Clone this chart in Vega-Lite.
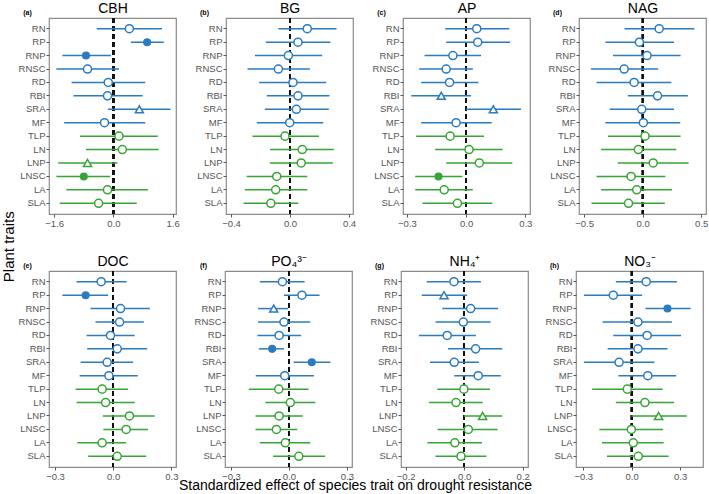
{
"$schema":"https://vega.github.io/schema/vega-lite/v6.json",
"padding":{"left":2,"top":0,"right":0,"bottom":0},
"title":{"text":"Plant traits","orient":"left","anchor":"middle","fontSize":15,"fontWeight":"normal","offset":0,"color":"#000"},
"datasets":{"d":[
{"p":"a","t":"RN","g":"root","e":0.43,"lo":-0.45,"hi":1.31,"s":"circle","f":0},
{"p":"a","t":"RP","g":"root","e":0.91,"lo":0.47,"hi":1.36,"s":"circle","f":1},
{"p":"a","t":"RNP","g":"root","e":-0.74,"lo":-1.38,"hi":-0.07,"s":"circle","f":1},
{"p":"a","t":"RNSC","g":"root","e":-0.70,"lo":-1.54,"hi":0.15,"s":"circle","f":0},
{"p":"a","t":"RD","g":"root","e":-0.14,"lo":-1.13,"hi":0.86,"s":"circle","f":0},
{"p":"a","t":"RBI","g":"root","e":-0.16,"lo":-1.08,"hi":0.79,"s":"circle","f":0},
{"p":"a","t":"SRA","g":"root","e":0.70,"lo":-0.15,"hi":1.54,"s":"triangle","f":0},
{"p":"a","t":"MF","g":"root","e":-0.24,"lo":-1.33,"hi":0.86,"s":"circle","f":0},
{"p":"a","t":"TLP","g":"leaf","e":0.15,"lo":-0.90,"hi":1.20,"s":"circle","f":0},
{"p":"a","t":"LN","g":"leaf","e":0.24,"lo":-0.74,"hi":1.22,"s":"circle","f":0},
{"p":"a","t":"LNP","g":"leaf","e":-0.70,"lo":-1.49,"hi":0.11,"s":"triangle","f":0},
{"p":"a","t":"LNSC","g":"leaf","e":-0.80,"lo":-1.54,"hi":-0.09,"s":"circle","f":1},
{"p":"a","t":"LA","g":"leaf","e":-0.16,"lo":-1.27,"hi":0.93,"s":"circle","f":0},
{"p":"a","t":"SLA","g":"leaf","e":-0.40,"lo":-1.45,"hi":0.63,"s":"circle","f":0},
{"p":"b","t":"RN","g":"root","e":0.117,"lo":-0.079,"hi":0.315,"s":"circle","f":0},
{"p":"b","t":"RP","g":"root","e":0.054,"lo":-0.164,"hi":0.274,"s":"circle","f":0},
{"p":"b","t":"RNP","g":"root","e":-0.011,"lo":-0.238,"hi":0.218,"s":"circle","f":0},
{"p":"b","t":"RNSC","g":"root","e":-0.079,"lo":-0.288,"hi":0.135,"s":"circle","f":0},
{"p":"b","t":"RD","g":"root","e":0.02,"lo":-0.209,"hi":0.245,"s":"circle","f":0},
{"p":"b","t":"RBI","g":"root","e":0.054,"lo":-0.157,"hi":0.267,"s":"circle","f":0},
{"p":"b","t":"SRA","g":"root","e":0.043,"lo":-0.171,"hi":0.263,"s":"circle","f":0},
{"p":"b","t":"MF","g":"root","e":-0.002,"lo":-0.225,"hi":0.225,"s":"circle","f":0},
{"p":"b","t":"TLP","g":"leaf","e":-0.034,"lo":-0.254,"hi":0.196,"s":"circle","f":0},
{"p":"b","t":"LN","g":"leaf","e":0.083,"lo":-0.135,"hi":0.297,"s":"circle","f":0},
{"p":"b","t":"LNP","g":"leaf","e":0.076,"lo":-0.137,"hi":0.29,"s":"circle","f":0},
{"p":"b","t":"LNSC","g":"leaf","e":-0.09,"lo":-0.294,"hi":0.117,"s":"circle","f":0},
{"p":"b","t":"LA","g":"leaf","e":-0.097,"lo":-0.306,"hi":0.117,"s":"circle","f":0},
{"p":"b","t":"SLA","g":"leaf","e":-0.13,"lo":-0.315,"hi":0.056,"s":"circle","f":0},
{"p":"c","t":"RN","g":"root","e":0.054,"lo":-0.106,"hi":0.219,"s":"circle","f":0},
{"p":"c","t":"RP","g":"root","e":0.059,"lo":-0.101,"hi":0.223,"s":"circle","f":0},
{"p":"c","t":"RNP","g":"root","e":-0.067,"lo":-0.211,"hi":0.076,"s":"circle","f":0},
{"p":"c","t":"RNSC","g":"root","e":-0.101,"lo":-0.238,"hi":0.034,"s":"circle","f":0},
{"p":"c","t":"RD","g":"root","e":-0.084,"lo":-0.228,"hi":0.062,"s":"circle","f":0},
{"p":"c","t":"RBI","g":"root","e":-0.126,"lo":-0.278,"hi":0.025,"s":"triangle","f":0},
{"p":"c","t":"SRA","g":"root","e":0.138,"lo":0.0,"hi":0.278,"s":"triangle","f":0},
{"p":"c","t":"MF","g":"root","e":-0.051,"lo":-0.228,"hi":0.13,"s":"circle","f":0},
{"p":"c","t":"TLP","g":"leaf","e":-0.081,"lo":-0.253,"hi":0.091,"s":"circle","f":0},
{"p":"c","t":"LN","g":"leaf","e":0.015,"lo":-0.157,"hi":0.185,"s":"circle","f":0},
{"p":"c","t":"LNP","g":"leaf","e":0.067,"lo":-0.101,"hi":0.234,"s":"circle","f":0},
{"p":"c","t":"LNSC","g":"leaf","e":-0.14,"lo":-0.258,"hi":-0.019,"s":"circle","f":1},
{"p":"c","t":"LA","g":"leaf","e":-0.111,"lo":-0.258,"hi":0.034,"s":"circle","f":0},
{"p":"c","t":"SLA","g":"leaf","e":-0.044,"lo":-0.221,"hi":0.133,"s":"circle","f":0},
{"p":"d","t":"RN","g":"root","e":0.141,"lo":-0.155,"hi":0.442,"s":"circle","f":0},
{"p":"d","t":"RP","g":"root","e":-0.028,"lo":-0.318,"hi":0.268,"s":"circle","f":0},
{"p":"d","t":"RNP","g":"root","e":0.037,"lo":-0.254,"hi":0.324,"s":"circle","f":0},
{"p":"d","t":"RNSC","g":"root","e":-0.158,"lo":-0.442,"hi":0.132,"s":"circle","f":0},
{"p":"d","t":"RD","g":"root","e":-0.073,"lo":-0.394,"hi":0.245,"s":"circle","f":0},
{"p":"d","t":"RBI","g":"root","e":0.127,"lo":-0.127,"hi":0.386,"s":"circle","f":0},
{"p":"d","t":"SRA","g":"root","e":-0.008,"lo":-0.282,"hi":0.268,"s":"circle","f":0},
{"p":"d","t":"MF","g":"root","e":0.006,"lo":-0.318,"hi":0.321,"s":"circle","f":0},
{"p":"d","t":"TLP","g":"leaf","e":0.02,"lo":-0.296,"hi":0.324,"s":"circle","f":0},
{"p":"d","t":"LN","g":"leaf","e":-0.037,"lo":-0.355,"hi":0.287,"s":"circle","f":0},
{"p":"d","t":"LNP","g":"leaf","e":0.09,"lo":-0.214,"hi":0.392,"s":"circle","f":0},
{"p":"d","t":"LNSC","g":"leaf","e":-0.099,"lo":-0.394,"hi":0.194,"s":"circle","f":0},
{"p":"d","t":"LA","g":"leaf","e":-0.051,"lo":-0.355,"hi":0.251,"s":"circle","f":0},
{"p":"d","t":"SLA","g":"leaf","e":-0.121,"lo":-0.437,"hi":0.189,"s":"circle","f":0},
{"p":"e","t":"RN","g":"root","e":-0.062,"lo":-0.189,"hi":0.069,"s":"circle","f":0},
{"p":"e","t":"RP","g":"root","e":-0.142,"lo":-0.262,"hi":-0.026,"s":"circle","f":1},
{"p":"e","t":"RNP","g":"root","e":0.038,"lo":-0.117,"hi":0.189,"s":"circle","f":0},
{"p":"e","t":"RNSC","g":"root","e":0.033,"lo":-0.091,"hi":0.158,"s":"circle","f":0},
{"p":"e","t":"RD","g":"root","e":-0.014,"lo":-0.137,"hi":0.111,"s":"circle","f":0},
{"p":"e","t":"RBI","g":"root","e":0.021,"lo":-0.134,"hi":0.175,"s":"circle","f":0},
{"p":"e","t":"SRA","g":"root","e":-0.031,"lo":-0.168,"hi":0.103,"s":"circle","f":0},
{"p":"e","t":"MF","g":"root","e":-0.022,"lo":-0.173,"hi":0.127,"s":"circle","f":0},
{"p":"e","t":"TLP","g":"leaf","e":-0.057,"lo":-0.194,"hi":0.077,"s":"circle","f":0},
{"p":"e","t":"LN","g":"leaf","e":-0.039,"lo":-0.189,"hi":0.111,"s":"circle","f":0},
{"p":"e","t":"LNP","g":"leaf","e":0.084,"lo":-0.053,"hi":0.214,"s":"circle","f":0},
{"p":"e","t":"LNSC","g":"leaf","e":0.067,"lo":-0.051,"hi":0.18,"s":"circle","f":0},
{"p":"e","t":"LA","g":"leaf","e":-0.057,"lo":-0.185,"hi":0.067,"s":"circle","f":0},
{"p":"e","t":"SLA","g":"leaf","e":0.021,"lo":-0.129,"hi":0.17,"s":"circle","f":0},
{"p":"f","t":"RN","g":"root","e":-0.034,"lo":-0.151,"hi":0.081,"s":"circle","f":0},
{"p":"f","t":"RP","g":"root","e":0.067,"lo":-0.026,"hi":0.158,"s":"circle","f":0},
{"p":"f","t":"RNP","g":"root","e":-0.079,"lo":-0.16,"hi":-0.005,"s":"triangle","f":0},
{"p":"f","t":"RNSC","g":"root","e":-0.026,"lo":-0.16,"hi":0.11,"s":"circle","f":0},
{"p":"f","t":"RD","g":"root","e":-0.051,"lo":-0.163,"hi":0.063,"s":"circle","f":0},
{"p":"f","t":"RBI","g":"root","e":-0.087,"lo":-0.156,"hi":-0.026,"s":"circle","f":1},
{"p":"f","t":"SRA","g":"root","e":0.118,"lo":0.024,"hi":0.214,"s":"circle","f":1},
{"p":"f","t":"MF","g":"root","e":-0.022,"lo":-0.172,"hi":0.129,"s":"circle","f":0},
{"p":"f","t":"TLP","g":"leaf","e":-0.053,"lo":-0.208,"hi":0.101,"s":"circle","f":0},
{"p":"f","t":"LN","g":"leaf","e":0.007,"lo":-0.122,"hi":0.136,"s":"circle","f":0},
{"p":"f","t":"LNP","g":"leaf","e":-0.051,"lo":-0.173,"hi":0.072,"s":"circle","f":0},
{"p":"f","t":"LNSC","g":"leaf","e":-0.065,"lo":-0.173,"hi":0.043,"s":"circle","f":0},
{"p":"f","t":"LA","g":"leaf","e":-0.019,"lo":-0.151,"hi":0.11,"s":"circle","f":0},
{"p":"f","t":"SLA","g":"leaf","e":0.051,"lo":-0.082,"hi":0.187,"s":"circle","f":0},
{"p":"g","t":"RN","g":"root","e":-0.035,"lo":-0.128,"hi":0.057,"s":"circle","f":0},
{"p":"g","t":"RP","g":"root","e":-0.069,"lo":-0.145,"hi":0.01,"s":"triangle","f":0},
{"p":"g","t":"RNP","g":"root","e":0.022,"lo":-0.075,"hi":0.116,"s":"circle","f":0},
{"p":"g","t":"RNSC","g":"root","e":-0.003,"lo":-0.098,"hi":0.09,"s":"circle","f":0},
{"p":"g","t":"RD","g":"root","e":-0.058,"lo":-0.155,"hi":0.04,"s":"circle","f":0},
{"p":"g","t":"RBI","g":"root","e":0.039,"lo":-0.055,"hi":0.13,"s":"circle","f":0},
{"p":"g","t":"SRA","g":"root","e":-0.034,"lo":-0.117,"hi":0.05,"s":"circle","f":0},
{"p":"g","t":"MF","g":"root","e":0.048,"lo":-0.034,"hi":0.125,"s":"circle","f":0},
{"p":"g","t":"TLP","g":"leaf","e":-0.001,"lo":-0.092,"hi":0.088,"s":"circle","f":0},
{"p":"g","t":"LN","g":"leaf","e":-0.028,"lo":-0.12,"hi":0.063,"s":"circle","f":0},
{"p":"g","t":"LNP","g":"leaf","e":0.063,"lo":-0.001,"hi":0.13,"s":"triangle","f":0},
{"p":"g","t":"LNSC","g":"leaf","e":0.014,"lo":-0.091,"hi":0.114,"s":"circle","f":0},
{"p":"g","t":"LA","g":"leaf","e":-0.032,"lo":-0.126,"hi":0.061,"s":"circle","f":0},
{"p":"g","t":"SLA","g":"leaf","e":-0.011,"lo":-0.098,"hi":0.076,"s":"circle","f":0},
{"p":"h","t":"RN","g":"root","e":0.09,"lo":-0.098,"hi":0.28,"s":"circle","f":0},
{"p":"h","t":"RP","g":"root","e":-0.114,"lo":-0.296,"hi":0.065,"s":"circle","f":0},
{"p":"h","t":"RNP","g":"root","e":0.222,"lo":0.086,"hi":0.365,"s":"circle","f":1},
{"p":"h","t":"RNSC","g":"root","e":0.039,"lo":-0.18,"hi":0.249,"s":"circle","f":0},
{"p":"h","t":"RD","g":"root","e":0.096,"lo":-0.114,"hi":0.306,"s":"circle","f":0},
{"p":"h","t":"RBI","g":"root","e":0.039,"lo":-0.149,"hi":0.222,"s":"circle","f":0},
{"p":"h","t":"SRA","g":"root","e":-0.078,"lo":-0.296,"hi":0.141,"s":"circle","f":0},
{"p":"h","t":"MF","g":"root","e":0.1,"lo":-0.082,"hi":0.276,"s":"circle","f":0},
{"p":"h","t":"TLP","g":"leaf","e":-0.027,"lo":-0.245,"hi":0.192,"s":"circle","f":0},
{"p":"h","t":"LN","g":"leaf","e":0.082,"lo":-0.098,"hi":0.263,"s":"circle","f":0},
{"p":"h","t":"LNP","g":"leaf","e":0.167,"lo":-0.002,"hi":0.341,"s":"triangle","f":0},
{"p":"h","t":"LNSC","g":"leaf","e":-0.002,"lo":-0.2,"hi":0.194,"s":"circle","f":0},
{"p":"h","t":"LA","g":"leaf","e":0.01,"lo":-0.184,"hi":0.198,"s":"circle","f":0},
{"p":"h","t":"SLA","g":"leaf","e":0.041,"lo":-0.153,"hi":0.229,"s":"circle","f":0}
]},
"data":{"name":"d"},
"spacing":24,
"vconcat":[
{"spacing":14,"hconcat":[
{"width":127,"height":196,"transform":[{"filter":"datum.p==='a'"}],"resolve":{"axis":{"x":"independent"}},
"layer":[
{"mark":{"type":"rule","strokeDash":[5,3],"strokeWidth":1.5,"color":"#111"},"encoding":{"x":{"datum":0,"type":"quantitative","scale":{"domain":[-1.74,1.69],"nice":false,"zero":false},"axis":{"orient":"top","title":"CBH"}}}},
{"mark":{"type":"rule","strokeWidth":1.5},"encoding":{"y":{"field":"t","type":"nominal","sort":["RN","RP","RNP","RNSC","RD","RBI","SRA","MF","TLP","LN","LNP","LNSC","LA","SLA"],"scale":{"padding":0.6},"axis":{"title":"(a)"}},"x":{"field":"lo","type":"quantitative","axis":{"values":[-1.6,0,1.6],"format":".1f","title":null}},"x2":{"field":"hi"},"color":{"field":"g","type":"nominal","scale":{"domain":["root","leaf"],"range":["#2A7BBF","#36A535"]},"legend":null}}},
{"transform":[{"filter":"datum.f==0"}],"mark":{"type":"point","filled":false,"fill":"white","size":65,"strokeWidth":1.5,"opacity":1},"encoding":{"y":{"field":"t","type":"nominal","sort":["RN","RP","RNP","RNSC","RD","RBI","SRA","MF","TLP","LN","LNP","LNSC","LA","SLA"]},"x":{"field":"e","type":"quantitative","axis":null},"color":{"field":"g","type":"nominal","legend":null},"shape":{"field":"s","type":"nominal","scale":{"domain":["circle","triangle"],"range":["circle","triangle-up"]},"legend":null}}},
{"transform":[{"filter":"datum.f==1"}],"mark":{"type":"point","filled":true,"size":65,"opacity":1},"encoding":{"y":{"field":"t","type":"nominal","sort":["RN","RP","RNP","RNSC","RD","RBI","SRA","MF","TLP","LN","LNP","LNSC","LA","SLA"]},"x":{"field":"e","type":"quantitative","axis":null},"color":{"field":"g","type":"nominal","legend":null},"shape":{"field":"s","type":"nominal","legend":null}}}
]},
{"width":127,"height":196,"transform":[{"filter":"datum.p==='b'"}],"resolve":{"axis":{"x":"independent"}},
"layer":[
{"mark":{"type":"rule","strokeDash":[5,3],"strokeWidth":1.5,"color":"#111"},"encoding":{"x":{"datum":0,"type":"quantitative","scale":{"domain":[-0.434,0.427],"nice":false,"zero":false},"axis":{"orient":"top","title":"BG"}}}},
{"mark":{"type":"rule","strokeWidth":1.5},"encoding":{"y":{"field":"t","type":"nominal","sort":["RN","RP","RNP","RNSC","RD","RBI","SRA","MF","TLP","LN","LNP","LNSC","LA","SLA"],"scale":{"padding":0.6},"axis":{"title":"(b)"}},"x":{"field":"lo","type":"quantitative","axis":{"values":[-0.4,0,0.4],"format":".1f","title":null}},"x2":{"field":"hi"},"color":{"field":"g","type":"nominal","scale":{"domain":["root","leaf"],"range":["#2A7BBF","#36A535"]},"legend":null}}},
{"transform":[{"filter":"datum.f==0"}],"mark":{"type":"point","filled":false,"fill":"white","size":65,"strokeWidth":1.5,"opacity":1},"encoding":{"y":{"field":"t","type":"nominal","sort":["RN","RP","RNP","RNSC","RD","RBI","SRA","MF","TLP","LN","LNP","LNSC","LA","SLA"]},"x":{"field":"e","type":"quantitative","axis":null},"color":{"field":"g","type":"nominal","legend":null},"shape":{"field":"s","type":"nominal","scale":{"domain":["circle","triangle"],"range":["circle","triangle-up"]},"legend":null}}},
{"transform":[{"filter":"datum.f==1"}],"mark":{"type":"point","filled":true,"size":65,"opacity":1},"encoding":{"y":{"field":"t","type":"nominal","sort":["RN","RP","RNP","RNSC","RD","RBI","SRA","MF","TLP","LN","LNP","LNSC","LA","SLA"]},"x":{"field":"e","type":"quantitative","axis":null},"color":{"field":"g","type":"nominal","legend":null},"shape":{"field":"s","type":"nominal","legend":null}}}
]},
{"width":127,"height":196,"transform":[{"filter":"datum.p==='c'"}],"resolve":{"axis":{"x":"independent"}},
"layer":[
{"mark":{"type":"rule","strokeDash":[5,3],"strokeWidth":1.5,"color":"#111"},"encoding":{"x":{"datum":0,"type":"quantitative","scale":{"domain":[-0.32,0.324],"nice":false,"zero":false},"axis":{"orient":"top","title":"AP"}}}},
{"mark":{"type":"rule","strokeWidth":1.5},"encoding":{"y":{"field":"t","type":"nominal","sort":["RN","RP","RNP","RNSC","RD","RBI","SRA","MF","TLP","LN","LNP","LNSC","LA","SLA"],"scale":{"padding":0.6},"axis":{"title":"(c)"}},"x":{"field":"lo","type":"quantitative","axis":{"values":[-0.3,0,0.3],"format":".1f","title":null}},"x2":{"field":"hi"},"color":{"field":"g","type":"nominal","scale":{"domain":["root","leaf"],"range":["#2A7BBF","#36A535"]},"legend":null}}},
{"transform":[{"filter":"datum.f==0"}],"mark":{"type":"point","filled":false,"fill":"white","size":65,"strokeWidth":1.5,"opacity":1},"encoding":{"y":{"field":"t","type":"nominal","sort":["RN","RP","RNP","RNSC","RD","RBI","SRA","MF","TLP","LN","LNP","LNSC","LA","SLA"]},"x":{"field":"e","type":"quantitative","axis":null},"color":{"field":"g","type":"nominal","legend":null},"shape":{"field":"s","type":"nominal","scale":{"domain":["circle","triangle"],"range":["circle","triangle-up"]},"legend":null}}},
{"transform":[{"filter":"datum.f==1"}],"mark":{"type":"point","filled":true,"size":65,"opacity":1},"encoding":{"y":{"field":"t","type":"nominal","sort":["RN","RP","RNP","RNSC","RD","RBI","SRA","MF","TLP","LN","LNP","LNSC","LA","SLA"]},"x":{"field":"e","type":"quantitative","axis":null},"color":{"field":"g","type":"nominal","legend":null},"shape":{"field":"s","type":"nominal","legend":null}}}
]},
{"width":127,"height":196,"transform":[{"filter":"datum.p==='d'"}],"resolve":{"axis":{"x":"independent"}},
"layer":[
{"mark":{"type":"rule","strokeDash":[5,3],"strokeWidth":1.5,"color":"#111"},"encoding":{"x":{"datum":0,"type":"quantitative","scale":{"domain":[-0.544,0.541],"nice":false,"zero":false},"axis":{"orient":"top","title":"NAG"}}}},
{"mark":{"type":"rule","strokeWidth":1.5},"encoding":{"y":{"field":"t","type":"nominal","sort":["RN","RP","RNP","RNSC","RD","RBI","SRA","MF","TLP","LN","LNP","LNSC","LA","SLA"],"scale":{"padding":0.6},"axis":{"title":"(d)"}},"x":{"field":"lo","type":"quantitative","axis":{"values":[-0.5,0,0.5],"format":".1f","title":null}},"x2":{"field":"hi"},"color":{"field":"g","type":"nominal","scale":{"domain":["root","leaf"],"range":["#2A7BBF","#36A535"]},"legend":null}}},
{"transform":[{"filter":"datum.f==0"}],"mark":{"type":"point","filled":false,"fill":"white","size":65,"strokeWidth":1.5,"opacity":1},"encoding":{"y":{"field":"t","type":"nominal","sort":["RN","RP","RNP","RNSC","RD","RBI","SRA","MF","TLP","LN","LNP","LNSC","LA","SLA"]},"x":{"field":"e","type":"quantitative","axis":null},"color":{"field":"g","type":"nominal","legend":null},"shape":{"field":"s","type":"nominal","scale":{"domain":["circle","triangle"],"range":["circle","triangle-up"]},"legend":null}}},
{"transform":[{"filter":"datum.f==1"}],"mark":{"type":"point","filled":true,"size":65,"opacity":1},"encoding":{"y":{"field":"t","type":"nominal","sort":["RN","RP","RNP","RNSC","RD","RBI","SRA","MF","TLP","LN","LNP","LNSC","LA","SLA"]},"x":{"field":"e","type":"quantitative","axis":null},"color":{"field":"g","type":"nominal","legend":null},"shape":{"field":"s","type":"nominal","legend":null}}}
]}
]},
{"spacing":14,"title":{"text":"Standardized effect of species trait on drought resistance","orient":"bottom","anchor":"middle","fontSize":14,"fontWeight":"normal","offset":-2,"dx":-5,"color":"#000"},"hconcat":[
{"width":127,"height":196,"transform":[{"filter":"datum.p==='e'"}],"resolve":{"axis":{"x":"independent"}},
"layer":[
{"mark":{"type":"rule","strokeDash":[5,3],"strokeWidth":1.5,"color":"#111"},"encoding":{"x":{"datum":0,"type":"quantitative","scale":{"domain":[-0.331,0.324],"nice":false,"zero":false},"axis":{"orient":"top","title":"DOC"}}}},
{"mark":{"type":"rule","strokeWidth":1.5},"encoding":{"y":{"field":"t","type":"nominal","sort":["RN","RP","RNP","RNSC","RD","RBI","SRA","MF","TLP","LN","LNP","LNSC","LA","SLA"],"scale":{"padding":0.6},"axis":{"title":"(e)"}},"x":{"field":"lo","type":"quantitative","axis":{"values":[-0.3,0,0.3],"format":".1f","title":null}},"x2":{"field":"hi"},"color":{"field":"g","type":"nominal","scale":{"domain":["root","leaf"],"range":["#2A7BBF","#36A535"]},"legend":null}}},
{"transform":[{"filter":"datum.f==0"}],"mark":{"type":"point","filled":false,"fill":"white","size":65,"strokeWidth":1.5,"opacity":1},"encoding":{"y":{"field":"t","type":"nominal","sort":["RN","RP","RNP","RNSC","RD","RBI","SRA","MF","TLP","LN","LNP","LNSC","LA","SLA"]},"x":{"field":"e","type":"quantitative","axis":null},"color":{"field":"g","type":"nominal","legend":null},"shape":{"field":"s","type":"nominal","scale":{"domain":["circle","triangle"],"range":["circle","triangle-up"]},"legend":null}}},
{"transform":[{"filter":"datum.f==1"}],"mark":{"type":"point","filled":true,"size":65,"opacity":1},"encoding":{"y":{"field":"t","type":"nominal","sort":["RN","RP","RNP","RNSC","RD","RBI","SRA","MF","TLP","LN","LNP","LNSC","LA","SLA"]},"x":{"field":"e","type":"quantitative","axis":null},"color":{"field":"g","type":"nominal","legend":null},"shape":{"field":"s","type":"nominal","legend":null}}}
]},
{"width":127,"height":196,"transform":[{"filter":"datum.p==='f'"}],"resolve":{"axis":{"x":"independent"}},
"layer":[
{"mark":{"type":"rule","strokeDash":[5,3],"strokeWidth":1.5,"color":"#111"},"encoding":{"x":{"datum":0,"type":"quantitative","scale":{"domain":[-0.331,0.326],"nice":false,"zero":false},"axis":{"orient":"top","title":"PO₄³⁻"}}}},
{"mark":{"type":"rule","strokeWidth":1.5},"encoding":{"y":{"field":"t","type":"nominal","sort":["RN","RP","RNP","RNSC","RD","RBI","SRA","MF","TLP","LN","LNP","LNSC","LA","SLA"],"scale":{"padding":0.6},"axis":{"title":"(f)"}},"x":{"field":"lo","type":"quantitative","axis":{"values":[-0.3,0,0.3],"format":".1f","title":null}},"x2":{"field":"hi"},"color":{"field":"g","type":"nominal","scale":{"domain":["root","leaf"],"range":["#2A7BBF","#36A535"]},"legend":null}}},
{"transform":[{"filter":"datum.f==0"}],"mark":{"type":"point","filled":false,"fill":"white","size":65,"strokeWidth":1.5,"opacity":1},"encoding":{"y":{"field":"t","type":"nominal","sort":["RN","RP","RNP","RNSC","RD","RBI","SRA","MF","TLP","LN","LNP","LNSC","LA","SLA"]},"x":{"field":"e","type":"quantitative","axis":null},"color":{"field":"g","type":"nominal","legend":null},"shape":{"field":"s","type":"nominal","scale":{"domain":["circle","triangle"],"range":["circle","triangle-up"]},"legend":null}}},
{"transform":[{"filter":"datum.f==1"}],"mark":{"type":"point","filled":true,"size":65,"opacity":1},"encoding":{"y":{"field":"t","type":"nominal","sort":["RN","RP","RNP","RNSC","RD","RBI","SRA","MF","TLP","LN","LNP","LNSC","LA","SLA"]},"x":{"field":"e","type":"quantitative","axis":null},"color":{"field":"g","type":"nominal","legend":null},"shape":{"field":"s","type":"nominal","legend":null}}}
]},
{"width":127,"height":196,"transform":[{"filter":"datum.p==='g'"}],"resolve":{"axis":{"x":"independent"}},
"layer":[
{"mark":{"type":"rule","strokeDash":[5,3],"strokeWidth":1.5,"color":"#111"},"encoding":{"x":{"datum":0,"type":"quantitative","scale":{"domain":[-0.216,0.218],"nice":false,"zero":false},"axis":{"orient":"top","title":"NH₄⁺"}}}},
{"mark":{"type":"rule","strokeWidth":1.5},"encoding":{"y":{"field":"t","type":"nominal","sort":["RN","RP","RNP","RNSC","RD","RBI","SRA","MF","TLP","LN","LNP","LNSC","LA","SLA"],"scale":{"padding":0.6},"axis":{"title":"(g)"}},"x":{"field":"lo","type":"quantitative","axis":{"values":[-0.2,0,0.2],"format":".1f","title":null}},"x2":{"field":"hi"},"color":{"field":"g","type":"nominal","scale":{"domain":["root","leaf"],"range":["#2A7BBF","#36A535"]},"legend":null}}},
{"transform":[{"filter":"datum.f==0"}],"mark":{"type":"point","filled":false,"fill":"white","size":65,"strokeWidth":1.5,"opacity":1},"encoding":{"y":{"field":"t","type":"nominal","sort":["RN","RP","RNP","RNSC","RD","RBI","SRA","MF","TLP","LN","LNP","LNSC","LA","SLA"]},"x":{"field":"e","type":"quantitative","axis":null},"color":{"field":"g","type":"nominal","legend":null},"shape":{"field":"s","type":"nominal","scale":{"domain":["circle","triangle"],"range":["circle","triangle-up"]},"legend":null}}},
{"transform":[{"filter":"datum.f==1"}],"mark":{"type":"point","filled":true,"size":65,"opacity":1},"encoding":{"y":{"field":"t","type":"nominal","sort":["RN","RP","RNP","RNSC","RD","RBI","SRA","MF","TLP","LN","LNP","LNSC","LA","SLA"]},"x":{"field":"e","type":"quantitative","axis":null},"color":{"field":"g","type":"nominal","legend":null},"shape":{"field":"s","type":"nominal","legend":null}}}
]},
{"width":127,"height":196,"transform":[{"filter":"datum.p==='h'"}],"resolve":{"axis":{"x":"independent"}},
"layer":[
{"mark":{"type":"rule","strokeDash":[5,3],"strokeWidth":1.5,"color":"#111"},"encoding":{"x":{"datum":0,"type":"quantitative","scale":{"domain":[-0.345,0.442],"nice":false,"zero":false},"axis":{"orient":"top","title":"NO₃⁻"}}}},
{"mark":{"type":"rule","strokeWidth":1.5},"encoding":{"y":{"field":"t","type":"nominal","sort":["RN","RP","RNP","RNSC","RD","RBI","SRA","MF","TLP","LN","LNP","LNSC","LA","SLA"],"scale":{"padding":0.6},"axis":{"title":"(h)"}},"x":{"field":"lo","type":"quantitative","axis":{"values":[-0.3,0,0.3],"format":".1f","title":null}},"x2":{"field":"hi"},"color":{"field":"g","type":"nominal","scale":{"domain":["root","leaf"],"range":["#2A7BBF","#36A535"]},"legend":null}}},
{"transform":[{"filter":"datum.f==0"}],"mark":{"type":"point","filled":false,"fill":"white","size":65,"strokeWidth":1.5,"opacity":1},"encoding":{"y":{"field":"t","type":"nominal","sort":["RN","RP","RNP","RNSC","RD","RBI","SRA","MF","TLP","LN","LNP","LNSC","LA","SLA"]},"x":{"field":"e","type":"quantitative","axis":null},"color":{"field":"g","type":"nominal","legend":null},"shape":{"field":"s","type":"nominal","scale":{"domain":["circle","triangle"],"range":["circle","triangle-up"]},"legend":null}}},
{"transform":[{"filter":"datum.f==1"}],"mark":{"type":"point","filled":true,"size":65,"opacity":1},"encoding":{"y":{"field":"t","type":"nominal","sort":["RN","RP","RNP","RNSC","RD","RBI","SRA","MF","TLP","LN","LNP","LNSC","LA","SLA"]},"x":{"field":"e","type":"quantitative","axis":null},"color":{"field":"g","type":"nominal","legend":null},"shape":{"field":"s","type":"nominal","legend":null}}}
]}
]}
],
"config":{
"font":"Liberation Sans",
"view":{"stroke":"#8c8c8c","strokeWidth":1.2},
"axis":{"grid":false,"domain":false,"tickColor":"#555","tickSize":3,"labelColor":"#555","labelFontSize":9.5,"labelPadding":1},
"axisY":{"titleAngle":0,"titleX":-22,"titleY":-6,"titleFontSize":7,"titleFontWeight":"bold","titleAlign":"center","titleBaseline":"middle","titleColor":"#000"},
"axisTop":{"labels":false,"ticks":false,"domain":false,"minExtent":0,"titleX":63.5,"titleY":-6,"titleAlign":"center","titleBaseline":"alphabetic","titleFontSize":14,"titleFontWeight":"normal","titleColor":"#000","titleAngle":0},
"title":{"fontSize":14,"fontWeight":"normal","color":"#000"}
}
}
